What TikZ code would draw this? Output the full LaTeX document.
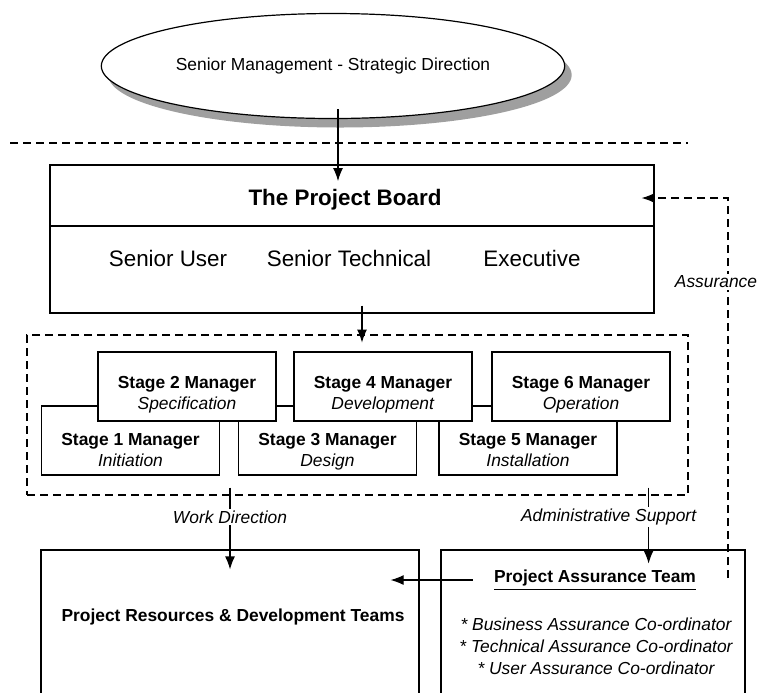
\documentclass[tikz,border=0pt]{standalone}
\usepackage{fontspec}
\setmainfont{Liberation Sans}
\usetikzlibrary{arrows.meta,shapes.geometric,shadows}
\newcommand\bigtxt{\fontsize{11.2}{13}\selectfont}
\newcommand\smtxt{\fontsize{8.7}{10.5}\selectfont}
\tikzset{
  stagebox/.style={draw,fill=white,minimum width=89pt,minimum height=34.5pt,align=center,inner sep=1pt,
    text height=26pt,text depth=3pt,font=\smtxt},
  lowbox/.style={stagebox,text height=29pt},
  teambox/.style={draw,minimum height=100pt},
  dashline/.style={dash pattern=on 4pt off 2.5pt},
  lbl/.style={fill=white,font=\smtxt\itshape,inner sep=1pt}
}
\begin{document}
\begin{tikzpicture}[x=0.5pt,y=-0.5pt,>={Latex[length=6.5pt,width=5pt]},line width=0.6pt]
\useasboundingbox (0,0) rectangle (760,692);
% senior management
\node[ellipse,draw,fill=white,drop shadow={shadow xshift=3.5pt,shadow yshift=-4.5pt,fill=gray!75,opacity=1},
  minimum width=228pt,minimum height=52.5pt,font=\smtxt] (ell) at (333,66) {Senior Management - Strategic Direction};
\draw[dashline] (10,143) -- (688,143);
% the board
\node[draw,minimum width=302pt,minimum height=74pt] (board) at (352,239) {};
\draw (board.west |- 0,226) -- (board.east |- 0,226);
\node[font=\bigtxt\bfseries] (pbt) at (345,200) {The Project Board};
\node[font=\bigtxt] (su) at (168,258) {Senior User};
\node[font=\bigtxt] (st) at (349,258) {Senior Technical};
\node[font=\bigtxt] (ex) at (532,258) {Executive};
\draw[->] ([xshift=2.5pt,yshift=5pt]ell.south) -- ++(0,72);
% stage managers
\node[draw,dashline,minimum width=330.5pt,minimum height=80pt] (grp) at (357.5,415) {};
\node[lowbox] (s1) at (130.5,440.5) {\textbf{Stage 1 Manager}\\\textit{Initiation}};
\node[lowbox] (s3) at (327.5,440.5) {\textbf{Stage 3 Manager}\\\textit{Design}};
\node[lowbox] (s5) at (528,440.5) {\textbf{Stage 5 Manager}\\\textit{Installation}};
\node[stagebox] (s2) at (187,386.5) {\textbf{Stage 2 Manager}\\\textit{Specification}};
\node[stagebox] (s4) at (383,386.5) {\textbf{Stage 4 Manager}\\\textit{Development}};
\node[stagebox] (s6) at (581,386.5) {\textbf{Stage 6 Manager}\\\textit{Operation}};
\draw[->] ([xshift=5pt,yshift=4pt]board.south) -- ++(0,37);
% teams
\node[teambox,minimum width=189pt] (res) at (230,650) {};
\node[teambox,minimum width=152pt] (asb) at (593,650) {};
\node[font=\smtxt\bfseries] (rdt) at (233,617) {Project Resources \& Development Teams};
\node[font=\smtxt\bfseries] (pat) at (595,580) {\underline{Project Assurance Team}};
\node[font=\fontsize{8.7}{11}\selectfont\itshape,align=center] (crd) at (596,646)
  {* Business Assurance Co-ordinator\\* Technical Assurance Co-ordinator\\* User Assurance Co-ordinator};
\draw[->] ([yshift=4pt]grp.south -| res.north) -- node[lbl,pos=0.36]{Work Direction} ([yshift=-10pt]res.north);
\draw[->] ([xshift=-20pt,yshift=4pt]grp.south east) -- node[lbl,pos=0.39,xshift=-20pt]{Administrative Support} ++(0,76);
\draw[->] ([xshift=-7pt]pat.west) -- ([xshift=-14.5pt]res.east |- pat.west);
\coordinate (asr) at (728,578);
\draw[dashline,->] (asr) |- node[lbl,pos=0.39,xshift=-6pt]{Assurance} ([xshift=-6.5pt]board.east |- 0,198);
\end{tikzpicture}
\end{document}
